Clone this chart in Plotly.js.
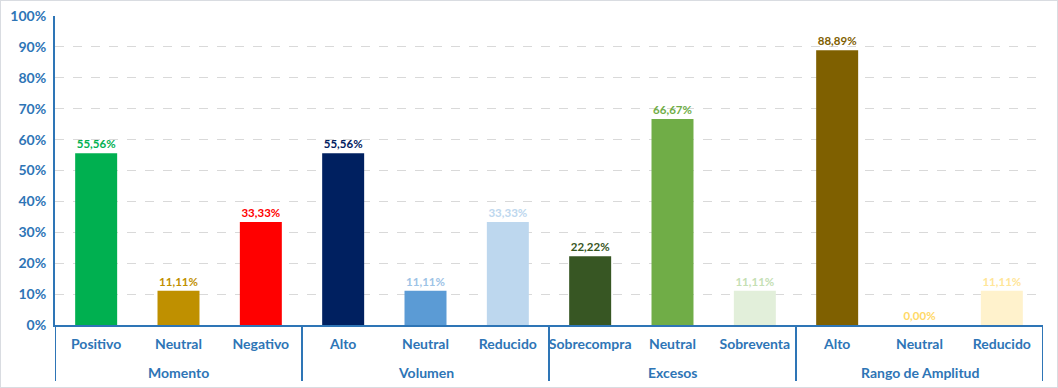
<!DOCTYPE html>
<html>
<head>
<meta charset="utf-8">
<script src="https://cdn.plot.ly/plotly-3.0.1.min.js"></script>
<style>
html,body{margin:0;padding:0;background:#fff;}
#chart{width:1056px;height:386px;border:1px solid #D9DCE1;}
</style>
</head>
<body>
<div id="chart"></div>
<script>
const groupNames = ["Momento","Volumen","Excesos","Rango de Amplitud"];
const groups = ["Momento","Momento","Momento","Volumen","Volumen","Volumen","Excesos","Excesos","Excesos","Rango de Amplitud","Rango de Amplitud","Rango de Amplitud"];
const categories = ["Positivo","Neutral","Negativo","Alto","Neutral","Reducido","Sobrecompra","Neutral","Sobreventa","Alto","Neutral","Reducido"];
const values = [55.56, 11.11, 33.33, 55.56, 11.11, 33.33, 22.22, 66.67, 11.11, 88.89, 0.00, 11.11];
const barColors = ["#00B050","#BF9000","#FF0000","#002060","#5B9BD5","#BDD7EE","#375623","#70AD47","#E2EFDA","#7F6000","#FFD966","#FFF2CC"];
const labelColors = ["#00B050","#BF9000","#FF0000","#002060","#9DC3E6","#BDD7EE","#375623","#70AD47","#C5E0B4","#7F6000","#FFD966","#FFE699"];
const yTicks = [0,10,20,30,40,50,60,70,80,90,100];

const axisBlue = "#2E75B6";
const fontFam = "Lato, 'Open Sans', sans-serif";
const labels = values.map(v => v.toFixed(2).replace(".", ",") + "%");
const idx = categories.map((_, i) => i);

// group spans derived from the group array
const spans = groupNames.map(g => {
  const ii = idx.filter(i => groups[i] === g);
  return {name: g, first: ii[0], last: ii[ii.length - 1]};
});

const plotH = 386 - 15 - 62;
const dividerDepth = 56 / plotH;

const shapes = [];
spans.forEach((s, k) => {
  if (k === 0) shapes.push({type: "line", xref: "x", yref: "paper", x0: s.first - 0.5, x1: s.first - 0.5, y0: 0, y1: -dividerDepth, line: {color: axisBlue, width: 2}, layer: "above"});
  shapes.push({type: "line", xref: "x", yref: "paper", x0: s.last + 0.5, x1: s.last + 0.5, y0: 0, y1: -dividerDepth, line: {color: axisBlue, width: 2}, layer: "above"});
});

const annotations = spans.map(s => ({
  xref: "x", yref: "paper",
  x: (s.first + s.last) / 2, y: 0,
  yanchor: "top", xanchor: "center",
  yshift: -37,
  text: s.name, showarrow: false,
  font: {family: fontFam, size: 14, color: axisBlue, weight: "bold"}
}));

const trace = {
  type: "bar",
  x: idx,
  y: values,
  marker: {color: barColors},
  text: labels,
  textposition: "outside",
  textfont: {family: fontFam, size: 11.5, color: labelColors, weight: "bold"},
  cliponaxis: false,
  hoverinfo: "none"
};

const layout = {
  width: 1056, height: 386,
  margin: {l: 54, r: 14, t: 15, b: 62},
  paper_bgcolor: "#fff",
  plot_bgcolor: "#fff",
  showlegend: false,
  bargap: 0.49,
  font: {family: fontFam},
  shapes: shapes,
  annotations: annotations,
  xaxis: {
    range: [-0.5, categories.length - 0.5],
    tickvals: idx,
    ticktext: categories,
    tickangle: 0,
    showline: true, linecolor: axisBlue, linewidth: 2,
    showgrid: false, zeroline: false, ticks: "",
    ticklabelstandoff: 5,
    tickfont: {family: fontFam, size: 14, color: axisBlue, weight: "bold"}
  },
  yaxis: {
    range: [0, 100],
    tickvals: yTicks,
    ticktext: yTicks.map(t => t + "%"),
    showline: true, linecolor: axisBlue, linewidth: 2,
    gridcolor: "#D9D9D9", griddash: "dash", gridwidth: 1,
    zeroline: false, ticks: "",
    ticklabelstandoff: 4,
    tickfont: {family: fontFam, size: 14, color: axisBlue, weight: "bold"}
  }
};

Plotly.newPlot("chart", [trace], layout, {displayModeBar: false, staticPlot: true});
</script>
</body>
</html>
